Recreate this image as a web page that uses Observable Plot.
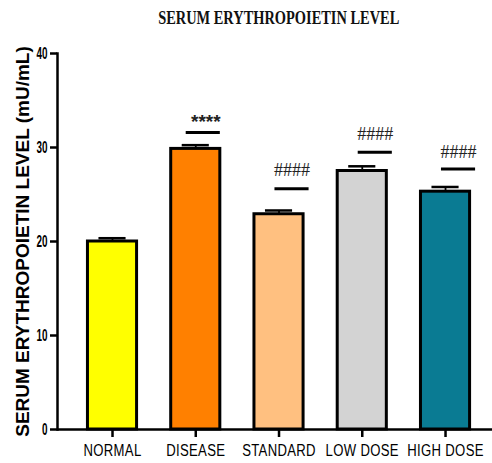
<!DOCTYPE html>
<html>
<head>
<meta charset="utf-8">
<script src="https://cdn.jsdelivr.net/npm/d3@7"></script>
<script src="https://cdn.jsdelivr.net/npm/@observablehq/plot@0.6"></script>
<style>
  body { margin: 0; background: #fff; }
  #title {
    height: 40px; width: 492px; box-sizing: border-box;
    padding-left: 66px; padding-top: 7.5px; text-align: center;
  }
  #title span {
    display: inline-block; transform: scaleX(0.8);
    font: bold 18px "Liberation Serif", "Times New Roman", serif;
    line-height: normal; color: #111; white-space: nowrap;
  }
</style>
</head>
<body>
<div id="title"><span>SERUM ERYTHROPOIETIN LEVEL</span></div>
<div id="chart"></div>
<script>
// Serum erythropoietin (mU/mL), mean ± SEM per group
const groups = ["NORMAL", "DISEASE", "STANDARD", "LOW DOSE", "HIGH DOSE"];
const means  = [20.0, 29.85, 22.9, 27.5, 25.3];
const sems   = [0.35, 0.4, 0.4, 0.5, 0.5];
const colors = ["#FFFF00", "#FF8000", "#FFC080", "#D3D3D3", "#0A7B93"];
const yTicks = [0, 10, 20, 30, 40];

// Significance markers: symbol, bar height and symbol height (in mU/mL)
const sigGroups  = ["DISEASE", "STANDARD", "LOW DOSE", "HIGH DOSE"];
const sigSymbols = ["****", "####", "####", "####"];
const sigLineY   = [31.6, 25.6, 29.5, 27.7];
const sigTextY   = [33.2, 27.6, 31.4, 29.5];

const rows = groups.map((g, i) => ({group: g, mean: means[i], sem: sems[i]}));
const sig = sigGroups.map((g, i) => ({group: g, symbol: sigSymbols[i], line: sigLineY[i], text: sigTextY[i]}));

const sans = "'Liberation Sans', Arial, sans-serif";
const serif = "'Liberation Serif', 'Times New Roman', serif";

const chart = Plot.plot({
  width: 492,
  height: 423,
  marginLeft: 57,
  marginRight: 0,
  marginTop: 13,
  marginBottom: 34,
  style: {background: "#fff", color: "#000"},
  x: {domain: groups, paddingInner: 0.41, paddingOuter: 0.3175, align: 0.576, round: false, label: null},
  y: {domain: [0, 40], label: null},
  color: {domain: groups, range: colors},
  marks: [
    Plot.barY(rows, {x: "group", y: "mean", fill: "group", stroke: "#000", strokeWidth: 3}),
    Plot.ruleX(rows, {x: "group", y1: "mean", y2: d => d.mean + d.sem, stroke: "#000", strokeWidth: 1.8}),
    Plot.tickY(rows, {x: "group", y: d => d.mean + d.sem, insetLeft: 11, insetRight: 11, stroke: "#000", strokeWidth: 2.5}),

    // significance bars and symbols
    Plot.tickY(sig, {filter: d => d.symbol === "****", x: "group", y: "line", insetLeft: 7.5, insetRight: 7.5, dx: 7.5, stroke: "#000", strokeWidth: 3}),
    Plot.tickY(sig, {filter: d => d.symbol !== "****", x: "group", y: "line", insetLeft: 7.5, insetRight: 7.5, dx: 13, stroke: "#000", strokeWidth: 3}),
    Plot.text(sig, {filter: d => d.symbol === "****", x: "group", y: "text", text: "symbol", dx: 10, dy: 4,
      fontFamily: sans, fontWeight: "bold", fontSize: 19, fill: "#222", ariaLabel: "sig-stars"}),
    Plot.text(sig, {filter: d => d.symbol !== "****", x: "group", y: "text", text: "symbol", dx: 13, dy: 0,
      fontFamily: serif, fontSize: 18, fill: "#222", ariaLabel: "sig-hash"}),

    // axes
    Plot.ruleY([0], {stroke: "#000", strokeWidth: 2.5}),
    Plot.frame({anchor: "left", stroke: "#000", strokeWidth: 2.5}),
    Plot.axisY({ticks: yTicks, tickSize: 7, tickPadding: 3, strokeWidth: 2.5, label: null,
      fontFamily: sans, fontWeight: "bold", fontSize: 16}),
    Plot.axisX({tickSize: 8, tickPadding: 7.5, strokeWidth: 2.5, label: null,
      fontFamily: sans, fontSize: 16}),
    Plot.text(["SERUM ERYTHROPOIETIN LEVEL (mU/mL)"], {text: d => d, frameAnchor: "left", textAnchor: "middle",
      rotate: -90, dx: -35, fontFamily: sans, fontWeight: "bold", fontSize: 19, ariaLabel: "y-label"})
  ]
});
document.getElementById("chart").append(chart);

// Condense the lettering horizontally (narrow typeface look)
function condense(label, s, spacing) {
  d3.select(chart).selectAll(`g[aria-label="${label}"] text`).each(function () {
    const el = d3.select(this);
    const t = el.attr("transform") || "";
    el.attr("transform", t.includes("rotate")
      ? t.replace(/rotate/, `scale(${s},1) rotate`)
      : `${t} scale(${s},1)`);
    if (spacing) el.attr("letter-spacing", spacing);
  });
}
condense("y-axis tick label", 0.62);
condense("x-axis tick label", 0.82, "0.4px");
condense("y-label", 0.78);
condense("sig-stars", 0.9, "4px");
condense("sig-hash", 0.85);
</script>
</body>
</html>
